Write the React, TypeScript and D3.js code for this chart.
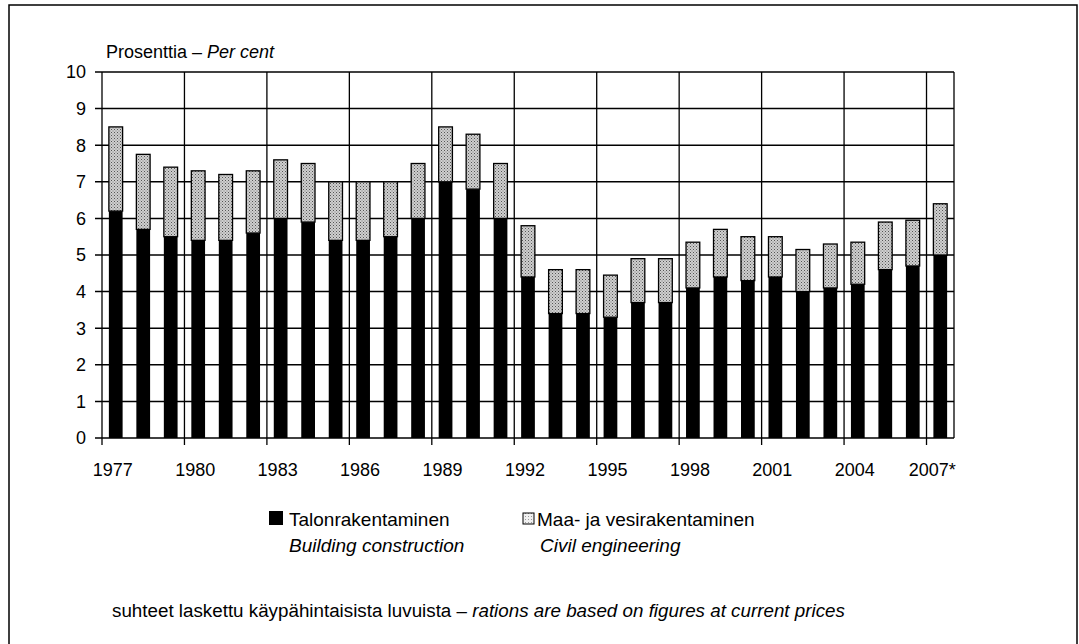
import React from 'react';
import * as d3 from 'd3';

const years = ['1977','1978','1979','1980','1981','1982','1983','1984','1985','1986','1987','1988','1989','1990','1991','1992','1993','1994','1995','1996','1997','1998','1999','2000','2001','2002','2003','2004','2005','2006','2007'];
const building = [6.2,5.7,5.5,5.4,5.4,5.6,6.0,5.9,5.4,5.4,5.5,6.0,7.0,6.8,6.0,4.4,3.4,3.4,3.3,3.7,3.7,4.1,4.4,4.3,4.4,4.0,4.1,4.2,4.6,4.7,5.0];
const civil = [2.3,2.05,1.9,1.9,1.8,1.7,1.6,1.6,1.6,1.6,1.5,1.5,1.5,1.5,1.5,1.4,1.2,1.2,1.15,1.2,1.2,1.25,1.3,1.2,1.1,1.15,1.2,1.15,1.3,1.25,1.4];
const tickYears = ['1977','1980','1983','1986','1989','1992','1995','1998','2001','2004','2007'];
const tickLabels = ['1977','1980','1983','1986','1989','1992','1995','1998','2001','2004','2007*'];
const yTicks = [0,1,2,3,4,5,6,7,8,9,10];

const FONT = '"Liberation Sans", Arial, Helvetica, sans-serif';

export default function App() {
  const W = 1079, H = 644;
  const left = 102, right = 954, top = 72, bottom = 438;
  const x = d3.scaleBand<string>().domain(years).range([left, right]).paddingInner(0.5).paddingOuter(0.25);
  const y = d3.scaleLinear().domain([0, 10]).range([bottom, top]);
  const step = x.step();
  const bw = x.bandwidth();
  const boundary = (yr: string) => (x(yr) as number) + bw / 2 - step / 2;

  const table = years.map((yr, i) => ({ year: yr, building: building[i], civil: civil[i] }));
  const stacked = d3.stack<any>().keys(['building', 'civil'])(table);

  const vLines = [...tickYears.map(boundary), right];

  return (
    <svg width={W} height={H} style={{ position: 'absolute', left: 0, top: 0, fontFamily: FONT }}>
      <defs>
        <pattern id="stipple" width="3" height="3" patternUnits="userSpaceOnUse">
          <rect width="3" height="3" fill="#cfcfcf" />
          <rect x="0" y="0" width="1" height="1" fill="#555" />
          <rect x="1.5" y="1.5" width="1" height="1" fill="#777" />
        </pattern>
        <pattern id="stippleLight" width="3" height="3" patternUnits="userSpaceOnUse">
          <rect width="3" height="3" fill="#f0f0f0" />
          <rect x="0" y="0" width="1" height="1" fill="#999" />
        </pattern>
      </defs>
      <rect width={W} height={H} fill="#fff" />
      {/* outer frame */}
      <path d={`M9,${H} V5 H1077 V${H}`} fill="none" stroke="#000" strokeWidth={1.5} />

      {/* title */}
      <text x={106} y={58} fontSize={18}>
        Prosenttia – <tspan fontStyle="italic">Per cent</tspan>
      </text>

      {/* horizontal gridlines + y ticks */}
      {yTicks.map(t => (
        <g key={t}>
          <line x1={left - 7} x2={right} y1={y(t)} y2={y(t)} stroke="#000" strokeWidth={1.5} />
          <text x={86} y={y(t)} dy="0.36em" textAnchor="end" fontSize={18}>{t}</text>
        </g>
      ))}
      {/* vertical gridlines */}
      {vLines.map((vx, i) => (
        <line key={i} x1={vx} x2={vx} y1={top} y2={i < vLines.length - 1 ? bottom + 7 : bottom} stroke="#000" strokeWidth={1.3} />
      ))}

      {/* bars */}
      {stacked.map((series, si) => (
        <g key={series.key}>
          {series.map((d: any) => (
            <rect
              key={d.data.year}
              x={x(d.data.year)}
              y={y(d[1])}
              width={bw}
              height={y(d[0]) - y(d[1])}
              fill={si === 0 ? '#000' : 'url(#stipple)'}
              stroke="#000"
              strokeWidth={si === 0 ? 0 : 1.3}
            />
          ))}
        </g>
      ))}

      {/* x tick labels */}
      {tickYears.map((yr, i) => (
        <text key={yr} x={(x(yr) as number) + bw / 2 - 3 - (i === tickYears.length - 1 ? 5 : 0)} y={476} textAnchor="middle" fontSize={18}>
          {tickLabels[i]}
        </text>
      ))}

      {/* legend */}
      <rect x={269} y={511} width={14} height={14} fill="#000" />
      <text x={289} y={526} fontSize={19}>Talonrakentaminen</text>
      <text x={289} y={552} fontSize={19} fontStyle="italic">Building construction</text>
      <rect x={523} y={513} width={11} height={11} fill="url(#stippleLight)" stroke="#000" strokeWidth={1} />
      <text x={537} y={526} fontSize={19}>Maa- ja vesirakentaminen</text>
      <text x={540} y={552} fontSize={19} fontStyle="italic">Civil engineering</text>

      {/* footnote */}
      <text x={112} y={617} fontSize={18.8}>
        suhteet laskettu käypähintaisista luvuista – <tspan fontStyle="italic">rations are based on figures at current prices</tspan>
      </text>
    </svg>
  );
}
